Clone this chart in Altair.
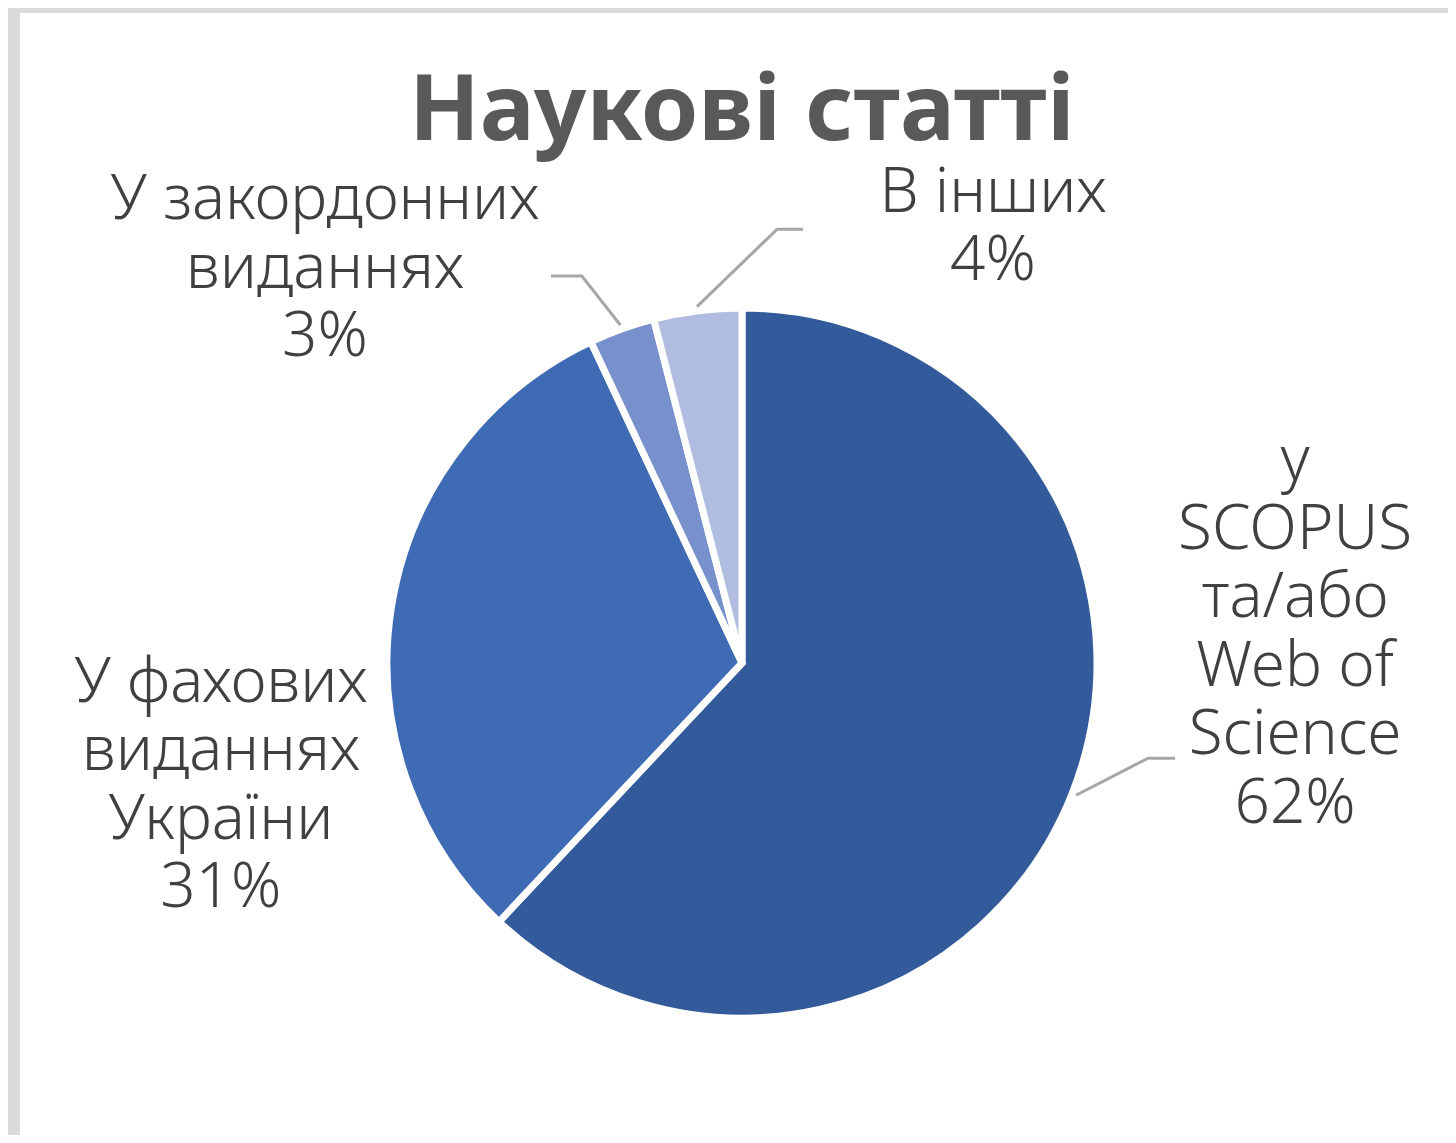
import math
import altair as alt
import pandas as pd

# ---- data ----
categories = [
    "У SCOPUS та/або Web of Science",
    "У фахових виданнях України",
    "У закордонних виданнях",
    "В інших",
]
values = [62, 31, 3, 4]
label_lines = [
    ["у", "SCOPUS", "та/або", "Web of", "Science"],
    ["У фахових", "виданнях", "України"],
    ["У закордонних", "виданнях"],
    ["В інших"],
]
colors = ["#335a9a", "#3f6bb5", "#7891cc", "#b0bde0"]

# ---- layout (pixels / radius units) ----
W, H = 1428, 1122
CX, CY = 722, 650
R = 355
x_dom = [-CX / R, (W - CX) / R]
y_dom = [-(H - CY) / R, CY / R]

# position of the first line of each label, in pie-radius units from the centre
LABEL_AT = {0: (1.558, 0.569), 1: (-1.468, -0.055), 2: (-1.175, 1.304), 3: (0.707, 1.324)}
LEADER = {
    0: [(1.144, -0.268), (1.220, -0.268)],
    2: [(-0.451, 1.090), (-0.538, 1.090)],
    3: [(0.099, 1.222), (0.172, 1.222)],
}

total = sum(values)
arc_df = pd.DataFrame({"category": categories, "value": values, "idx": list(range(len(values)))})

lab_rows, lead_rows = [], []
cum = 0
for i, (c, v) in enumerate(zip(categories, values)):
    mid = 2 * math.pi * (cum + v / 2) / total
    cum += v
    lx, ly = LABEL_AT[i]
    lab_rows.append({"category": c, "text": "\n".join(label_lines[i] + [f"{v}%"]), "x": lx, "y": ly})
    if i in LEADER:
        pts = [(1.012 * math.sin(mid), 1.012 * math.cos(mid))] + LEADER[i]
        for k, (px, py) in enumerate(pts):
            lead_rows.append({"category": c, "pt": k, "x": px, "y": py})

lab_df = pd.DataFrame(lab_rows)
lead_df = pd.DataFrame(lead_rows)

xs = alt.Scale(domain=x_dom, nice=False, zero=False)
ys = alt.Scale(domain=y_dom, nice=False, zero=False)

arcs = alt.Chart(arc_df).mark_arc(outerRadius=R, stroke="white", strokeWidth=7).encode(
    theta=alt.Theta("value:Q", stack=True),
    order=alt.Order("idx:Q"),
    color=alt.Color("category:N", scale=alt.Scale(domain=categories, range=colors), legend=None),
    x=alt.XDatum(0, type="quantitative", scale=xs, axis=None),
    y=alt.YDatum(0, type="quantitative", scale=ys, axis=None),
)

leaders = alt.Chart(lead_df).mark_line(color="#a6a6a6", strokeWidth=3).encode(
    x=alt.X("x:Q", scale=xs, axis=None),
    y=alt.Y("y:Q", scale=ys, axis=None),
    detail="category:N",
    order="pt:Q",
)

texts = alt.Chart(lab_df).mark_text(
    font="Noto Sans", fontSize=62, fontWeight=300, color="#404040",
    lineBreak="\n", lineHeight=68.5, align="center", baseline="middle",
).encode(
    x=alt.X("x:Q", scale=xs, axis=None),
    y=alt.Y("y:Q", scale=ys, axis=None),
    text="text:N",
)

chart = alt.layer(arcs, leaders, texts).properties(
    width=W,
    height=H,
    title=alt.TitleParams(
        "Наукові статті", font="Noto Sans", fontSize=92, fontWeight="bold",
        color="#595959", anchor="middle", frame="group", offset=-219,
        baseline="alphabetic", dx=8,
    ),
    autosize=alt.AutoSizeParams(type="none"),
    padding={"left": 12, "top": 5, "right": 0, "bottom": 0},
    background="#dadada",
).configure_view(fill="white", stroke="white", strokeWidth=0)

chart.save("out.html", embed_options={"renderer": "svg", "actions": False})
